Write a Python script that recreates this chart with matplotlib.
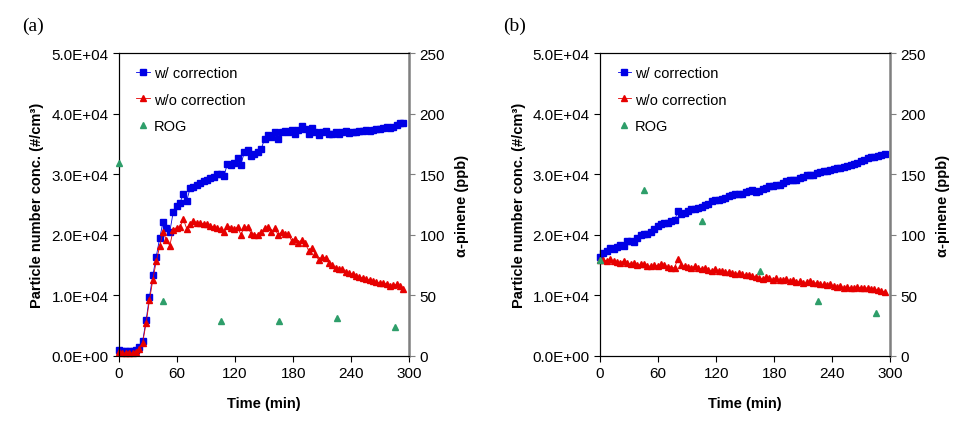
import numpy as np
import matplotlib
matplotlib.use("Agg")
import matplotlib.pyplot as plt
from matplotlib.ticker import FuncFormatter, MultipleLocator

plt.rcParams['font.family'] = ['Liberation Sans', 'DejaVu Sans']

# sampling time (min), one SMPS scan every 3.5 min
time = np.arange(0, 295, 3.5)

# (a) particle number conc., in 1000 #/cm3
a_with = [1.0, 0.9, 0.9, 0.9, 0.9, 1.0, 1.5, 2.5, 5.9, 9.8,
          13.3, 16.4, 19.4, 22.1, 21.1, 20.5, 23.7, 24.7, 25.3, 26.7,
          25.6, 27.7, 27.9, 28.3, 28.6, 28.9, 29.0, 29.3, 29.5, 30.1,
          30.0, 29.7, 31.7, 31.6, 31.9, 32.7, 31.6, 33.6, 34.0, 33.0,
          33.3, 33.6, 34.2, 35.8, 36.5, 36.1, 36.9, 35.8, 37.0, 37.2,
          37.0, 37.3, 36.7, 37.3, 37.9, 37.5, 36.6, 37.7, 36.9, 36.4,
          36.9, 37.2, 36.7, 36.6, 37.0, 36.6, 36.9, 37.1, 36.8, 37.0,
          37.0, 37.1, 37.1, 37.3, 37.2, 37.3, 37.4, 37.5, 37.6, 37.8,
          37.6, 37.8, 38.2, 38.4, 38.4]
a_without = [0.6, 0.5, 0.5, 0.5, 0.5, 0.6, 1.2, 2.2, 5.4, 9.2,
             12.6, 15.6, 18.1, 20.4, 19.2, 18.2, 20.8, 21.2, 21.3, 22.6,
             21.0, 21.8, 22.3, 22.0, 22.0, 21.8, 21.7, 21.5, 21.3, 21.2,
             21.0, 20.4, 21.5, 21.2, 20.9, 21.3, 20.0, 21.3, 21.3, 20.2,
             20.0, 20.0, 20.4, 21.1, 21.3, 20.4, 21.1, 19.9, 20.5, 20.2,
             20.1, 19.0, 19.3, 18.6, 19.2, 18.6, 17.4, 17.8, 16.8, 15.8,
             16.3, 16.2, 15.3, 15.0, 14.6, 14.3, 14.4, 13.9, 13.7, 13.5,
             13.2, 13.0, 12.9, 12.7, 12.5, 12.3, 12.2, 12.1, 12.0, 11.9,
             11.5, 11.7, 11.8, 11.5, 11.1]

# (b) particle number conc., in 1000 #/cm3
b_with = [16.4, 17.0, 17.3, 17.9, 17.7, 18.0, 18.3, 18.2, 18.9, 19.0,
          18.8, 19.4, 19.9, 20.1, 20.2, 20.5, 21.0, 21.4, 21.8, 22.0,
          21.9, 22.2, 22.4, 23.9, 23.4, 23.6, 23.9, 24.2, 24.3, 24.5,
          24.6, 24.9, 25.1, 25.6, 25.7, 25.8, 25.9, 26.1, 26.4, 26.6,
          26.7, 26.8, 26.8, 27.0, 27.3, 27.4, 27.1, 27.2, 27.6, 27.8,
          28.0, 28.1, 28.3, 28.3, 28.6, 28.8, 29.0, 29.0, 29.1, 29.3,
          29.6, 29.8, 29.9, 29.8, 30.2, 30.4, 30.5, 30.5, 30.7, 30.9,
          31.0, 31.1, 31.2, 31.4, 31.5, 31.7, 31.9, 32.1, 32.4, 32.6,
          32.8, 32.9, 33.0, 33.1, 33.3]
b_without = [15.9, 15.8, 15.7, 16.0, 15.6, 15.5, 15.4, 15.7, 15.4, 15.2,
             15.3, 15.0, 15.1, 15.2, 14.9, 14.8, 15.0, 14.9, 15.1, 15.0,
             14.7, 14.5, 14.6, 16.0, 15.0, 14.8, 14.7, 14.6, 14.8, 14.5,
             14.4, 14.5, 14.2, 14.1, 14.3, 14.1, 14.0, 13.8, 13.9, 13.7,
             13.6, 13.7, 13.5, 13.3, 13.4, 13.2, 13.1, 12.9, 12.7, 13.0,
             12.8, 12.6, 12.8, 12.5, 12.6, 12.7, 12.4, 12.5, 12.2, 12.3,
             12.1, 12.2, 12.4, 12.0, 12.1, 11.9, 11.8, 11.7, 11.8, 11.6,
             11.4, 11.5, 11.3, 11.4, 11.2, 11.3, 11.4, 11.2, 11.3, 11.2,
             11.1, 11.0, 10.9, 10.8, 10.6]

# ROG alpha-pinene (ppb)
rog_time = [0, 45, 105, 165, 225, 285]
a_rog = [159, 45.5, 28.5, 29, 31, 24]
b_rog = [79, 137, 111, 70, 45, 35.5]

BLUE = '#0000e6'
RED = '#e60000'
GREEN = '#2e9e6a'
GREY = '#7f7f7f'

fig = plt.figure(figsize=(9.65, 4.31), dpi=100)


def panel(left, tag, y_with, y_without, rog):
    ax = fig.add_axes([left, 0.1717, 0.3008, 0.703])
    l1, = ax.plot(time, np.array(y_with) * 1000, color=BLUE, lw=0.6,
                  marker='s', ms=4.0, mec=BLUE, mfc=BLUE,
                  label='w/ correction', clip_on=False, zorder=3)
    l2, = ax.plot(time, np.array(y_without) * 1000, color=RED, lw=0.6,
                  marker='^', ms=3.8, mec=RED, mfc=RED,
                  label='w/o correction', clip_on=False, zorder=4)
    ax.set_xlim(0, 300)
    ax.set_ylim(0, 50000)
    ax.xaxis.set_major_locator(MultipleLocator(60))
    ax.yaxis.set_major_locator(MultipleLocator(10000))
    ax.yaxis.set_major_formatter(FuncFormatter(lambda v, p: f'{v:.1E}'))
    ax.tick_params(direction='out', length=4, width=0.8, labelsize=11)
    ax.set_xlabel('Time (min)', fontsize=10.5, fontweight='bold', labelpad=11)
    ax.set_ylabel('Particle number conc. (#/cm³)', fontsize=10.5,
                  fontweight='bold', labelpad=5)
    ax.spines['right'].set_visible(False)

    ax2 = ax.twinx()
    l3, = ax2.plot(rog_time, rog, linestyle='none', marker='^', ms=4.5,
                   color=GREEN, label='ROG', clip_on=False, zorder=5)
    ax2.set_ylim(0, 250)
    ax2.yaxis.set_major_locator(MultipleLocator(50))
    ax2.spines['right'].set_color(GREY)
    ax2.spines['right'].set_linewidth(1.8)
    ax2.tick_params(axis='y', direction='out', length=4, width=0.8,
                    color=GREY, labelsize=11)
    ax2.set_ylabel('α-pinene (ppb)', fontsize=10.5, fontweight='bold',
                   labelpad=7)
    ax2.legend([l1, l2, l3], ['w/ correction', 'w/o correction', 'ROG'],
               loc='upper left', frameon=False, fontsize=10.5,
               handlelength=0.9, handletextpad=0.3, labelspacing=0.85,
               borderaxespad=0.4, bbox_to_anchor=(0.02, 0.995))
    fig.text(left - 0.1, 0.94, tag, fontsize=14, family='Liberation Serif',
             va='center')
    return ax


panel(0.1233, '(a)', a_with, a_without, a_rog)
panel(0.6218, '(b)', b_with, b_without, b_rog)

fig.savefig('out.png', dpi=100)
